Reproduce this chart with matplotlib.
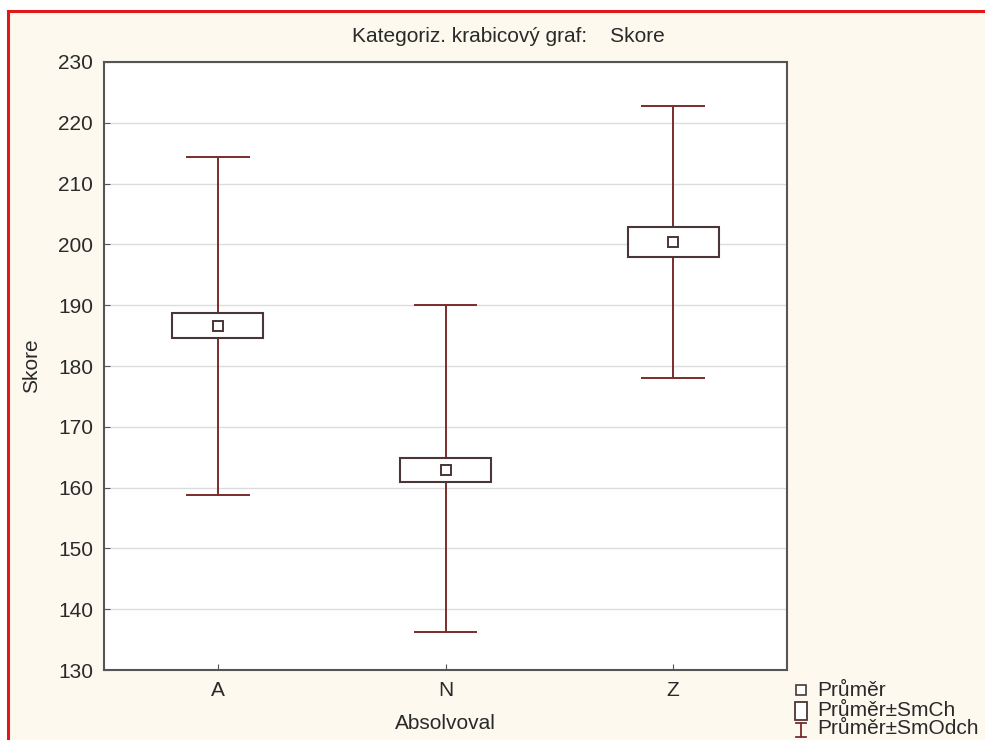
import numpy as np
import matplotlib
matplotlib.use('Agg')
import matplotlib.pyplot as plt
import matplotlib.patches as patches
from matplotlib.lines import Line2D

plt.rcParams['font.family'] = ['Liberation Sans', 'DejaVu Sans']

# mean, mean +- std. error, mean +- std. deviation for each group
groups = ['A', 'N', 'Z']
mean = [186.6, 162.9, 200.4]
se_lo = [184.6, 161.0, 197.9]
se_hi = [188.7, 164.8, 202.9]
sd_lo = [158.8, 136.2, 178.0]
sd_hi = [214.4, 190.0, 222.8]
yticks = np.arange(130, 231, 10)

whisk_c = '#7a2c2c'
box_c = '#4a3636'
txt_c = '#2a2a2a'
fs = 15

fig = plt.figure(figsize=(9.85, 7.4), dpi=100)
fig.patch.set_facecolor('white')

# cream panel with red frame on top/left
frame = patches.Rectangle((7.5/985, -0.1), 1.2, 1 - 10.5/740 + 0.1, transform=fig.transFigure,
                          facecolor='#fdf9ef', edgecolor='#e01818', linewidth=2.2, zorder=-5)
fig.patches.append(frame)

ax = fig.add_axes([104/985, 70/740, 683/985, 608/740])
ax.set_facecolor('white')

x = np.arange(len(groups))
box_w = 0.2
cap_w = 0.14
for i in range(len(groups)):
    ax.vlines(x[i], sd_lo[i], sd_hi[i], color=whisk_c, lw=1.4, zorder=2)
    ax.hlines([sd_lo[i], sd_hi[i]], x[i] - cap_w, x[i] + cap_w, color=whisk_c, lw=1.4, zorder=2)
    ax.add_patch(patches.Rectangle((x[i] - box_w, se_lo[i]), 2*box_w, se_hi[i] - se_lo[i],
                                   facecolor='white', edgecolor=box_c, lw=1.5, zorder=3))
    ax.plot(x[i], mean[i], 's', ms=7.5, mfc='white', mec=box_c, mew=1.4, zorder=4)

ax.set_xlim(-0.5, 2.5)
ax.set_ylim(130, 230)
ax.set_yticks(yticks)
ax.set_xticks(x)
ax.set_xticklabels(groups)
ax.yaxis.grid(True, color='#dcdcdc', lw=1)
ax.set_axisbelow(True)
ax.tick_params(direction='in', length=4, color='#555555', labelsize=fs, labelcolor=txt_c, pad=8)
for s in ax.spines.values():
    s.set_color('#555555')
    s.set_linewidth(1.5)

ax.set_xlabel('Absolvoval', fontsize=fs, color=txt_c, labelpad=10)
ax.set_ylabel('Skore', fontsize=fs, color=txt_c, labelpad=12)
fig.text(0.516, 1 - 37/740, 'Kategoriz. krabicový graf:    Skore', ha='center', va='center',
         fontsize=fs, color=txt_c)

# legend drawn by hand in figure coordinates
def fx(px):
    return px/985

def fy(py):
    return 1 - py/740

fig.add_artist(Line2D([fx(801)], [fy(690)], marker='s', ms=6.5, mfc='white', mec=box_c,
                      mew=1.2, transform=fig.transFigure))
fig.patches.append(patches.Rectangle((fx(795), fy(720)), fx(807) - fx(795), fy(702) - fy(720),
                                     transform=fig.transFigure, facecolor='white',
                                     edgecolor=box_c, lw=1.3))
fig.add_artist(Line2D([fx(801), fx(801)], [fy(723), fy(737)], color=whisk_c, lw=1.3,
                      transform=fig.transFigure))
fig.add_artist(Line2D([fx(796), fx(806)], [fy(723), fy(723)], color=whisk_c, lw=1.3,
                      transform=fig.transFigure))
fig.add_artist(Line2D([fx(796), fx(806)], [fy(737), fy(737)], color=whisk_c, lw=1.3,
                      transform=fig.transFigure))
for lab, py in zip(['Průměr', 'Průměr±SmCh', 'Průměr±SmOdch'], [690, 711, 729]):
    fig.text(fx(817), fy(py), lab, ha='left', va='center', fontsize=fs, color=txt_c)

fig.savefig('out.png', dpi=100, facecolor=fig.get_facecolor())
